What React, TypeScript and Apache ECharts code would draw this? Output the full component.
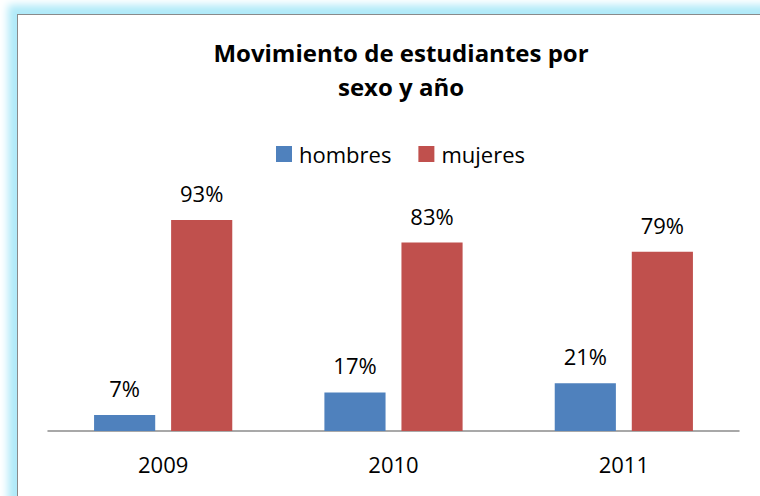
import React, { useEffect, useRef } from "react";
import * as echarts from "echarts";

const categories = ["2009", "2010", "2011"];
const hombres = [7, 17, 21];
const mujeres = [93, 83, 79];
const titleText = "Movimiento de estudiantes por\nsexo y año";

export default function App() {
  const ref = useRef<HTMLDivElement>(null);
  useEffect(() => {
    if (!ref.current) return;
    const chart = echarts.init(ref.current, null, { renderer: "svg" });
    const font = "Open Sans";
    const label = {
      show: true,
      position: "top" as const,
      distance: 16,
      formatter: "{c}%",
      color: "#000",
      fontSize: 22,
      fontFamily: font,
    };
    chart.setOption({
      animation: false,
      backgroundColor: "transparent",
      title: {
        text: titleText,
        left: 396,
        textAlign: "center",
        top: 30,
        textStyle: {
          fontFamily: font,
          fontWeight: "bold",
          fontSize: 24,
          lineHeight: 34,
          color: "#000",
        },
      },
      legend: {
        top: 138,
        left: 271,
        itemWidth: 16,
        itemHeight: 16,
        itemGap: 27,
        icon: "rect",
        textStyle: { fontFamily: font, fontSize: 22, color: "#000", padding: [0, 0, 0, 2] },
        data: ["hombres", "mujeres"],
      },
      grid: { left: 48, right: 21, top: 204, bottom: 65 },
      xAxis: {
        type: "category",
        data: categories,
        axisLine: { lineStyle: { color: "#8c8c8c", width: 1.5 } },
        axisTick: { show: false },
        axisLabel: {
          fontFamily: font,
          fontSize: 22,
          color: "#000",
          margin: 22,
        },
      },
      yAxis: {
        type: "value",
        min: 0,
        max: 100,
        show: false,
        splitLine: { show: false },
      },
      series: [
        {
          name: "hombres",
          type: "bar",
          data: hombres,
          itemStyle: { color: "#4F81BD" },
          barGap: "26%",
          barCategoryGap: "40%",
          label,
        },
        {
          name: "mujeres",
          type: "bar",
          data: mujeres,
          itemStyle: { color: "#C0504D" },
          label,
        },
      ],
    });
    return () => chart.dispose();
  }, []);
  return (
    <div
      style={{
        position: "fixed",
        left: 0,
        top: 0,
        width: 760,
        height: 496,
        background: "#fff",
        overflow: "hidden",
      }}
    >
      <div
        style={{
          position: "absolute",
          left: 17,
          top: 14,
          width: 800,
          height: 600,
          border: "1.5px solid #8a8a8a",
          boxShadow: "0 0 8px 9px #b0eaf9",
          background: "#fff",
        }}
      />
      <div
        ref={ref}
        style={{ position: "absolute", left: 0, top: 0, width: 760, height: 496 }}
      />
    </div>
  );
}
